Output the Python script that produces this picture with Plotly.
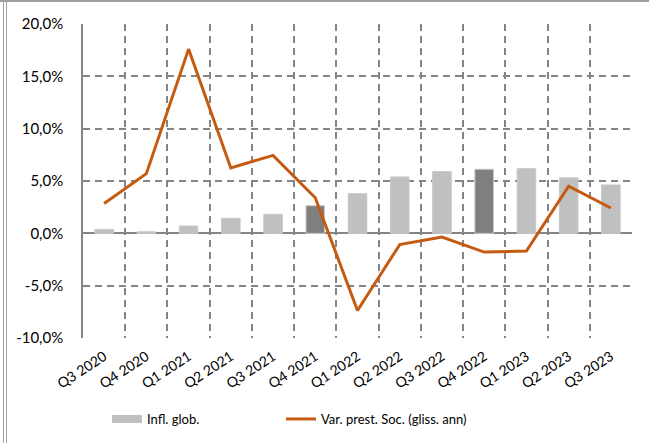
import plotly.graph_objects as go

categories = ["Q3 2020", "Q4 2020", "Q1 2021", "Q2 2021", "Q3 2021", "Q4 2021", "Q1 2022",
              "Q2 2022", "Q3 2022", "Q4 2022", "Q1 2023", "Q2 2023", "Q3 2023"]
infl_glob = [0.38, 0.15, 0.7, 1.44, 1.82, 2.64, 3.79, 5.39, 5.9, 6.12, 6.18, 5.3, 4.62]
var_prest = [2.85, 5.7, 17.6, 6.25, 7.45, 3.4, -7.37, -1.08, -0.35, -1.79, -1.69, 4.5, 2.42]
y_ticks = [-10, -5, 0, 5, 10, 15, 20]
y_tick_labels = ["-10,0%", "-5,0%", "0,0%", "5,0%", "10,0%", "15,0%", "20,0%"]
highlight = ["Q4 2021", "Q4 2022"]

x_idx = list(range(len(categories)))
boundaries = [i - 0.5 for i in range(len(categories) + 1)]
bar_colors = ["#7F7F7F" if c in highlight else "#C0C0C0" for c in categories]

FONT = "Lato"
GRID = "#858585"
DASH = "7px,5px"
fig = go.Figure()
fig.add_trace(go.Bar(
    x=x_idx, y=infl_glob, name="Infl. glob.", width=0.44, showlegend=False,
    marker=dict(color=bar_colors, line=dict(color="#C8C8C8", width=1)),
))
# legend swatch for the bar series (wide grey rectangle as in the original)
fig.add_trace(go.Scatter(
    x=[None], y=[None], name="Infl. glob.", mode="lines", legend="legend",
    line=dict(color="#C0C0C0", width=8),
))
fig.add_trace(go.Scatter(
    x=x_idx, y=var_prest, name="Var. prest. Soc. (gliss. ann)", mode="lines",
    legend="legend2", line=dict(color="#C55A11", width=3),
))

leg_common = dict(orientation="h", xanchor="left", y=-0.258, yanchor="middle",
                  font=dict(size=13), bgcolor="rgba(0,0,0,0)")
fig.update_layout(
    width=649, height=443,
    margin=dict(l=83, r=17, t=24, b=105, autoexpand=False),
    plot_bgcolor="white", paper_bgcolor="white",
    font=dict(family=FONT, size=14, color="black"),
    showlegend=True,
    legend=dict(x=0.0437, **leg_common),
    legend2=dict(x=0.3606, **leg_common),
    xaxis=dict(
        range=[-0.5, 12.5], tickmode="array", tickvals=x_idx, ticktext=categories,
        tickangle=-33, showgrid=False, zeroline=False, showline=False, ticks="",
        tickfont=dict(size=14), automargin=False, ticklabelstandoff=7,
        minor=dict(tickmode="array", tickvals=boundaries, showgrid=True, gridcolor=GRID,
                   griddash=DASH, gridwidth=1.5, ticks=""),
    ),
    yaxis=dict(
        range=[-10, 20], tickmode="array", tickvals=y_ticks, ticktext=y_tick_labels,
        showgrid=True, gridcolor=GRID, griddash=DASH, gridwidth=1.5,
        zeroline=True, zerolinecolor=GRID, zerolinewidth=1.5, automargin=False,
        showline=True, linecolor=GRID, linewidth=1.5, ticks="", ticklabelstandoff=15,
        tickfont=dict(size=15),
    ),
    shapes=[
        dict(type="line", xref="paper", yref="paper", x0=-0.16, x1=1.04, y0=1.073, y1=1.073,
             line=dict(color="#A0A0A0", width=2)),
        dict(type="line", xref="paper", yref="paper", x0=-0.1448, x1=-0.1448, y0=-0.35, y1=1.073,
             line=dict(color="#A0A0A0", width=1)),
        dict(type="line", xref="paper", yref="paper", x0=-0.1393, x1=-0.1393, y0=-0.35, y1=1.073,
             line=dict(color="#A0A0A0", width=1)),
    ],
)
fig.write_html("out.html", config={"displayModeBar": False},
               post_script="document.body.style.margin='0';")
